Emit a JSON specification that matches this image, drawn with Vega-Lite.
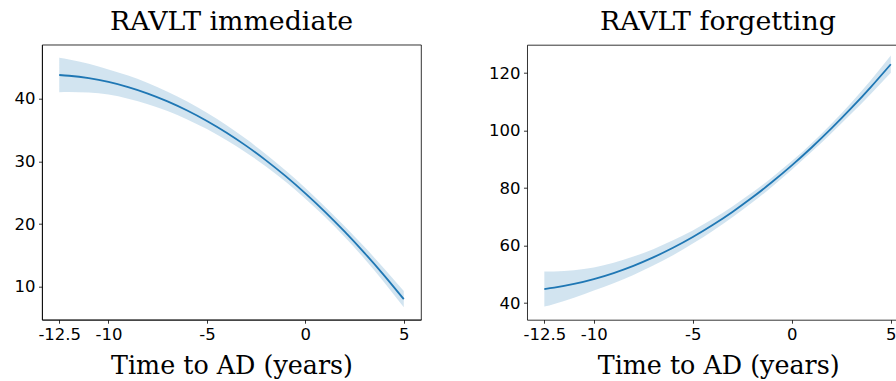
{
  "$schema": "https://vega.github.io/schema/vega-lite/v6.json",
  "background": "white",
  "padding": {"left": 13, "top": 7.7, "right": 0, "bottom": 0},
  "bounds": "flush",
  "spacing": 106,
  "datasets": {
    "immediate": [
      {"t": -12.5, "mid": 43.80, "lo": 41.05, "hi": 46.55},
      {"t": -12, "mid": 43.68, "lo": 41.08, "hi": 46.28},
      {"t": -11, "mid": 43.29, "lo": 40.99, "hi": 45.59},
      {"t": -10, "mid": 42.69, "lo": 40.69, "hi": 44.69},
      {"t": -9, "mid": 41.87, "lo": 40.02, "hi": 43.72},
      {"t": -8, "mid": 40.84, "lo": 39.14, "hi": 42.54},
      {"t": -7, "mid": 39.59, "lo": 38.04, "hi": 41.14},
      {"t": -6, "mid": 38.13, "lo": 36.71, "hi": 39.55},
      {"t": -5, "mid": 36.46, "lo": 35.16, "hi": 37.76},
      {"t": -4, "mid": 34.58, "lo": 33.38, "hi": 35.78},
      {"t": -3, "mid": 32.48, "lo": 31.40, "hi": 33.56},
      {"t": -2, "mid": 30.17, "lo": 29.19, "hi": 31.15},
      {"t": -1, "mid": 27.64, "lo": 26.74, "hi": 28.54},
      {"t": 0, "mid": 24.90, "lo": 24.05, "hi": 25.75},
      {"t": 1, "mid": 21.95, "lo": 21.13, "hi": 22.77},
      {"t": 2, "mid": 18.78, "lo": 17.92, "hi": 19.64},
      {"t": 3, "mid": 15.40, "lo": 14.45, "hi": 16.35},
      {"t": 4, "mid": 11.81, "lo": 10.71, "hi": 12.91},
      {"t": 5, "mid": 8.00, "lo": 6.70, "hi": 9.30}
    ],
    "forgetting": [
      {"t": -12.5, "mid": 44.88, "lo": 38.78, "hi": 50.98},
      {"t": -12, "mid": 45.37, "lo": 39.72, "hi": 51.02},
      {"t": -11, "mid": 46.66, "lo": 41.86, "hi": 51.46},
      {"t": -10, "mid": 48.35, "lo": 44.35, "hi": 52.35},
      {"t": -9, "mid": 50.46, "lo": 46.91, "hi": 54.01},
      {"t": -8, "mid": 52.97, "lo": 49.77, "hi": 56.17},
      {"t": -7, "mid": 55.90, "lo": 53.05, "hi": 58.75},
      {"t": -6, "mid": 59.24, "lo": 56.64, "hi": 61.84},
      {"t": -5, "mid": 62.99, "lo": 60.69, "hi": 65.29},
      {"t": -4, "mid": 67.15, "lo": 65.05, "hi": 69.25},
      {"t": -3, "mid": 71.72, "lo": 69.82, "hi": 73.62},
      {"t": -2, "mid": 76.70, "lo": 74.95, "hi": 78.45},
      {"t": -1, "mid": 82.10, "lo": 80.50, "hi": 83.70},
      {"t": 0, "mid": 87.90, "lo": 86.40, "hi": 89.40},
      {"t": 1, "mid": 94.12, "lo": 92.62, "hi": 95.62},
      {"t": 2, "mid": 100.74, "lo": 99.09, "hi": 102.39},
      {"t": 3, "mid": 107.78, "lo": 105.83, "hi": 109.73},
      {"t": 4, "mid": 115.23, "lo": 112.83, "hi": 117.63},
      {"t": 5, "mid": 123.09, "lo": 120.09, "hi": 126.09}
    ]
  },
  "hconcat": [
    {
      "width": 379,
      "height": 275,
      "data": {"name": "immediate"},
      "title": {"text": "RAVLT immediate", "frame": "group", "baseline": "alphabetic", "offset": -12},
      "layer": [
        {
          "mark": {"type": "area", "color": "#1f77b4", "opacity": 0.2, "interpolate": "monotone"},
          "encoding": {
            "x": {"field": "t", "type": "quantitative", "scale": {"domain": [-13.375, 5.875], "nice": false, "zero": false},
              "axis": {"values": [-12.5, -10, -5, 0, 5], "labelExpr": "replace(format(datum.value, '.1~f'), '−', '-')", "title": "Time to AD (years)"}},
            "y": {"field": "lo", "type": "quantitative", "scale": {"domain": [4.72, 48.64], "nice": false, "zero": false},
              "axis": {"values": [10, 20, 30, 40], "title": null}},
            "y2": {"field": "hi"}
          }
        },
        {
          "mark": {"type": "line", "color": "#1f77b4", "strokeWidth": 1.8, "interpolate": "monotone"},
          "encoding": {
            "x": {"field": "t", "type": "quantitative"},
            "y": {"field": "mid", "type": "quantitative"}
          }
        }
      ]
    },
    {
      "width": 369,
      "height": 275,
      "data": {"name": "forgetting"},
      "view": {"stroke": null},
      "title": {"text": "RAVLT forgetting", "frame": "group", "baseline": "alphabetic", "offset": -12, "dx": 6.4},
      "layer": [
        {
          "mark": {"type": "area", "color": "#1f77b4", "opacity": 0.2, "interpolate": "monotone"},
          "encoding": {
            "x": {"field": "t", "type": "quantitative", "scale": {"domain": [-13.375, 5.261], "nice": false, "zero": false},
              "axis": {"orient": "top", "labels": false, "ticks": false, "title": null, "domain": true}},
            "y": {"field": "lo", "type": "quantitative", "scale": {"domain": [34.23, 129.88], "nice": false, "zero": false},
              "axis": {"values": [40, 60, 80, 100, 120], "title": null}},
            "y2": {"field": "hi"}
          }
        },
        {
          "mark": {"type": "line", "color": "#1f77b4", "strokeWidth": 1.8, "interpolate": "monotone"},
          "encoding": {
            "x": {"field": "t", "type": "quantitative",
              "axis": {"orient": "bottom", "values": [-12.5, -10, -5, 0, 5], "labelExpr": "replace(format(datum.value, '.1~f'), '−', '-')", "title": "Time to AD (years)", "titleX": 191.2}},
            "y": {"field": "mid", "type": "quantitative"}
          }
        }
      ]
    }
  ],
  "config": {
    "view": {"stroke": "#000", "strokeWidth": 0.8},
    "axis": {
      "grid": false,
      "domainColor": "#000",
      "domainWidth": 0.8,
      "tickColor": "#000",
      "tickWidth": 0.8,
      "tickSize": 3.5,
      "labelFont": "DejaVu Sans",
      "labelFontSize": 16.5,
      "labelColor": "#000",
      "labelPadding": 3.5,
      "labelFlush": false,
      "labelOverlap": false,
      "labelBound": false,
      "titleFont": "DejaVu Serif",
      "titleFontSize": 25.4,
      "titleFontWeight": "normal",
      "titleColor": "#000",
      "titlePadding": 10.5
    },
    "title": {"font": "DejaVu Serif", "fontSize": 26.8, "fontWeight": "normal", "color": "#000", "anchor": "middle"}
  }
}
